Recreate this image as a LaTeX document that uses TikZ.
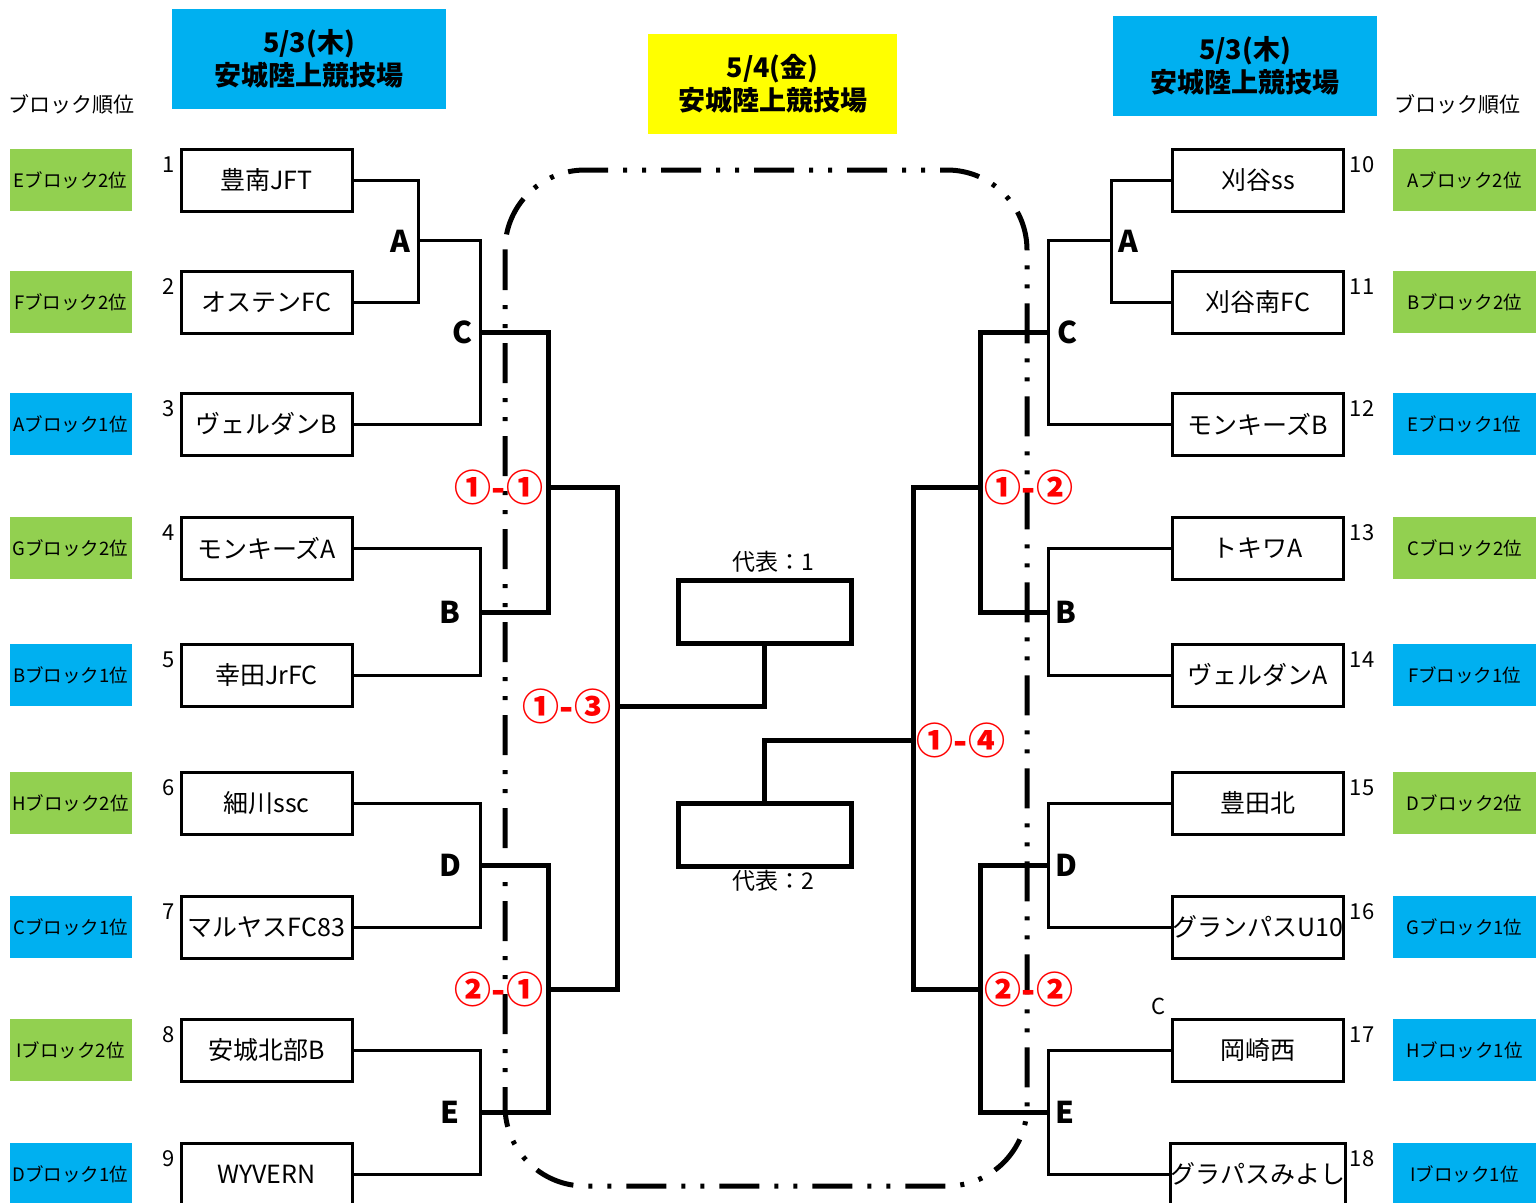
\documentclass[tikz,border=0pt]{standalone}
\usepackage{fontspec}
\setmainfont{Noto Sans CJK JP}
\definecolor{bcyan}{HTML}{00B0F0}
\definecolor{bgreen}{HTML}{92D050}
\definecolor{byellow}{HTML}{FFFF00}
\definecolor{bred}{HTML}{FF0000}
\begin{document}
\begin{tikzpicture}[x=1pt,y=-1pt,
  team/.style={draw, line width=3pt, minimum width=171pt, minimum height=62pt, inner sep=0pt, font=\fontsize{25}{29}\selectfont},
  blk/.style={minimum height=62pt, inner sep=0pt, font=\fontsize{18.5}{22}\selectfont},
  hdr/.style={align=center, inner sep=0pt, font=\bfseries\fontsize{27}{33}\selectfont},
  num/.style={inner sep=0pt, font=\fontsize{22}{26}\selectfont},
  lett/.style={inner sep=0pt, font=\bfseries\fontsize{30}{34}\selectfont},
  rl/.style={inner sep=0pt, text=bred, font=\bfseries\fontsize{37}{40}\selectfont},
  thin/.style={line width=3pt},
  thk/.style={line width=5pt},
  rep/.style={draw, line width=5pt, minimum width=173pt, minimum height=63pt, inner sep=0pt},
  arena/.style={line width=5pt, dash pattern=on 40pt off 15pt on 4pt off 15pt on 4pt off 15pt, rounded corners=80pt}
]
\useasboundingbox (0,0) rectangle (1536,1202);

% headers
\node[hdr, fill=bcyan, minimum width=274pt, minimum height=100pt] (hL) at (309,59) {5/3(木)\\安城陸上競技場};
\node[hdr, fill=byellow, minimum width=249pt, minimum height=100pt] (hC) at (772.5,84) {5/4(金)\\安城陸上競技場};
\node[hdr, fill=bcyan, minimum width=264pt, minimum height=100pt] (hR) at (1245,66) {5/3(木)\\安城陸上競技場};
\node[num, font=\fontsize{21}{24}\selectfont] (rankL) at (72,104) {ブロック順位};
\node[num, font=\fontsize{21}{24}\selectfont] (rankR) at (1457,104) {ブロック順位};

% arena outline
\draw[arena] (505,170) rectangle (1027,1186);

% left teams
\foreach \n/\y/\t in {1/180/豊南JFT, 2/302/オステンFC, 3/424/ヴェルダンB, 4/548/モンキーズA, 5/675/幸田JrFC, 6/803/細川ssc, 7/927/マルヤスFC83, 8/1050/安城北部B, 9/1174/WYVERN}{
  \node[team] (L\n) at (266.5,\y) {\t};
  \node[num] (nL\n) at (169,\y-15) {\n};
}
% right teams
\foreach \n/\y/\t in {10/180/刈谷ss, 11/302/刈谷南FC, 12/424/モンキーズB, 13/548/トキワA, 14/675/ヴェルダンA, 15/803/豊田北, 16/927/グランパスU10, 17/1050/岡崎西, 18/1174/グラパスみよし}{
  \node[team] (R\n) at (1258,\y) {\t};
  \node[num] (nR\n) at (1362,\y-15) {\n};
}
% block labels
\foreach \n/\y/\t/\c in {1/180/Eブロック2位/bgreen, 2/302/Fブロック2位/bgreen, 3/424/Aブロック1位/bcyan, 4/548/Gブロック2位/bgreen, 5/675/Bブロック1位/bcyan, 6/803/Hブロック2位/bgreen, 7/927/Cブロック1位/bcyan, 8/1050/Iブロック2位/bgreen, 9/1174/Dブロック1位/bcyan}{
  \node[blk, fill=\c, minimum width=122pt] (bL\n) at (70.5,\y) {\t};
}
\foreach \n/\y/\t/\c in {10/180/Aブロック2位/bgreen, 11/302/Bブロック2位/bgreen, 12/424/Eブロック1位/bcyan, 13/548/Cブロック2位/bgreen, 14/675/Fブロック1位/bcyan, 15/803/Dブロック2位/bgreen, 16/927/Gブロック1位/bcyan, 17/1050/Hブロック1位/bcyan, 18/1174/Iブロック1位/bcyan}{
  \node[blk, fill=\c, minimum width=143pt] (bR\n) at (1464.5,\y) {\t};
}

% representative boxes
\node[rep] (rep1) at (764.5,611.5) {};
\node[rep] (rep2) at (764.5,835) {};
\node[num, font=\fontsize{23}{26}\selectfont] (rep1l) at (773,562) {代表：1};
\node[num, font=\fontsize{23}{26}\selectfont] (rep2l) at (773,881) {代表：2};

% junctions left
\coordinate (jA) at (418,240);
\coordinate (jC) at (480,332);
\coordinate (jB) at (480,612);
\coordinate (jD) at (480,865);
\coordinate (jE) at (480,1112);
\coordinate (j11) at (548,487);
\coordinate (j21) at (548,989);
\coordinate (j13) at (617,706);
% junctions right
\coordinate (kA) at (1111,240);
\coordinate (kC) at (1048,332);
\coordinate (kB) at (1048,612);
\coordinate (kD) at (1048,865);
\coordinate (kE) at (1048,1112);
\coordinate (j12) at (980,487);
\coordinate (j22) at (980,989);
\coordinate (j14) at (913,740);

% left thin brackets
\draw[thin] (L1.east) -| (jA);
\draw[thin] (L2.east) -| (jA);
\draw[thin] (jA) -| (jC);
\draw[thin] (L3.east) -| (jC);
\draw[thin] (L4.east) -| (jB);
\draw[thin] (L5.east) -| (jB);
\draw[thin] (L6.east) -| (jD);
\draw[thin] (L7.east) -| (jD);
\draw[thin] (L8.east) -| (jE);
\draw[thin] (L9.east) -| (jE);
% left thick
\draw[thk] (jC) -| (j11);
\draw[thk] (jB) -| (j11);
\draw[thk] (jD) -| (j21);
\draw[thk] (jE) -| (j21);
\draw[thk] (j11) -| (j13);
\draw[thk] (j21) -| (j13);
\draw[thk] (j13) -| (rep1.south);

% right thin brackets
\draw[thin] (R10.west) -| (kA);
\draw[thin] (R11.west) -| (kA);
\draw[thin] (kA) -| (kC);
\draw[thin] (R12.west) -| (kC);
\draw[thin] (R13.west) -| (kB);
\draw[thin] (R14.west) -| (kB);
\draw[thin] (R15.west) -| (kD);
\draw[thin] (R16.west) -| (kD);
\draw[thin] (R17.west) -| (kE);
\draw[thin] (R18.west) -| (kE);
% right thick
\draw[thk] (kC) -| (j12);
\draw[thk] (kB) -| (j12);
\draw[thk] (kD) -| (j22);
\draw[thk] (kE) -| (j22);
\draw[thk] (j12) -| (j14);
\draw[thk] (j22) -| (j14);
\draw[thk] (j14) -| (rep2.north);

% bracket letters
\node[lett] (tA) at (400,241) {A};
\node[lett] (tC) at (462,332) {C};
\node[lett] (tB) at (450,612) {B};
\node[lett] (tD) at (450,865) {D};
\node[lett] (tE) at (450,1112) {E};
\node[lett] (uA) at (1128,241) {A};
\node[lett] (uC) at (1067,332) {C};
\node[lett] (uB) at (1066,612) {B};
\node[lett] (uD) at (1066,865) {D};
\node[lett] (uE) at (1065,1112) {E};
\node[num, font=\fontsize{22}{26}\selectfont] (xC) at (1159,1006) {C};

% match labels
\node[rl] (m11) at (499,487) {①-①};
\node[rl] (m13) at (567,706) {①-③};
\node[rl] (m21) at (499,989) {②-①};
\node[rl] (m12) at (1029,487) {①-②};
\node[rl] (m14) at (961,740) {①-④};
\node[rl] (m22) at (1029,989) {②-②};
\end{tikzpicture}
\end{document}
